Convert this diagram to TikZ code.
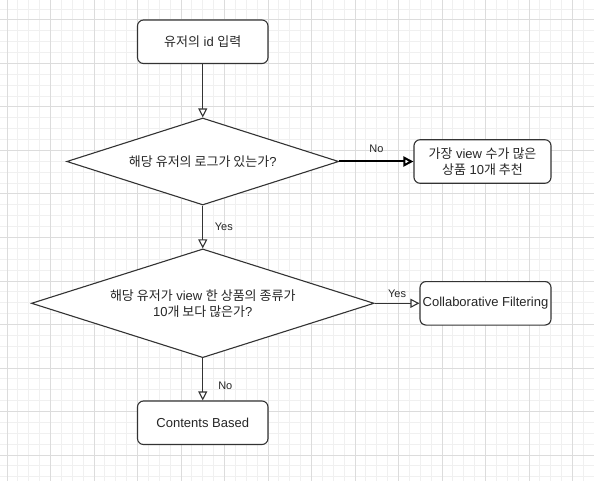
\documentclass[tikz,border=0pt]{standalone}
\usepackage{fontspec}
\setmainfont{Liberation Sans}
\newfontfamily\kr{Noto Sans CJK KR}
\usetikzlibrary{shapes.geometric,arrows.meta}
\definecolor{linecol}{HTML}{333333}
\definecolor{minorgrid}{HTML}{F0F0F0}
\definecolor{majorgrid}{HTML}{DCDCDC}
\newcommand\mainsize{\fontsize{13}{16}\selectfont}
\newcommand\lblsize{\fontsize{11}{13}\selectfont}
\begin{document}
\begin{tikzpicture}[x=1pt,y=-1pt,
  procbox/.style={draw=linecol, line width=1.1pt, rounded corners=6pt, fill=white,
    minimum height=43.5pt, inner sep=0pt, align=center, font=\mainsize, text=black!85},
  decision/.style={draw=linecol, line width=1.1pt, diamond, fill=white, inner sep=0pt,
    align=center, font=\mainsize, text=black!85},
  flow/.style={draw=linecol, line width=1.1pt, -{Triangle[open, fill=white, length=9pt, width=9pt]}},
  boldflow/.style={draw=black, line width=2pt, -{Triangle[open, fill=white, length=10pt, width=10pt]}},
  lbl/.style={font=\lblsize, text=black!85, inner sep=0pt},
  minorline/.style={draw=minorgrid, line width=1pt},
  majorline/.style={draw=majorgrid, line width=1pt}]
\useasboundingbox (0,0) rectangle (594,481);
\fill[white] (0,0) rectangle (594,481);
% grid
\foreach \k in {-1,...,54} \draw[minorline] ({7+\k*10.875},0) -- ({7+\k*10.875},481);
\foreach \k in {-2,...,42} \draw[minorline] (0,{20+\k*10.875}) -- (594,{20+\k*10.875});
\foreach \k in {0,...,13} \draw[majorline] ({7+\k*43.5},0) -- ({7+\k*43.5},481);
\foreach \k in {0,...,10} \draw[majorline] (0,{20+\k*43.5}) -- (594,{20+\k*43.5});
% nodes
\node[procbox, minimum width=130.5pt] (start) at (202.75,41.75) {{\kr 유저의} id {\kr 입력}};
\node[decision, minimum width=272pt, minimum height=87pt, aspect=3.13] (d1) at (202.75,161.5)
  {{\kr 해당 유저의 로그가 있는가}?};
\node[procbox, minimum width=137pt] (top10) at (482.5,161.5)
  {{\kr 가장} view {\kr 수가 많은}\\{\kr 상품} 10{\kr 개 추천}};
\node[decision, minimum width=342.6pt, minimum height=108.75pt, aspect=3.15] (d2) at (202.75,303.3)
  {{\kr 해당 유저가} view {\kr 한 상품의 종류가}\\10{\kr 개 보다 많은가}?};
\node[procbox, minimum width=131pt] (cf) at (485.5,303.3) {Collaborative Filtering};
\node[procbox, minimum width=130.5pt] (cb) at (202.75,422.75) {Contents Based};
% connectors
\draw[flow] (start.south) -- (d1.north);
\draw[boldflow] (d1.east) -- node[lbl, above=7.5pt] {No} (top10.west);
\draw[flow] (d1.south) -- node[lbl, right=11.5pt] {Yes} (d2.north);
\draw[flow] (d2.east) -- node[lbl, above=5.3pt] {Yes} (cf.west);
\draw[flow] (d2.south) -- node[lbl, pos=0.65, right=15pt] {No} (cb.north);
\end{tikzpicture}
\end{document}
